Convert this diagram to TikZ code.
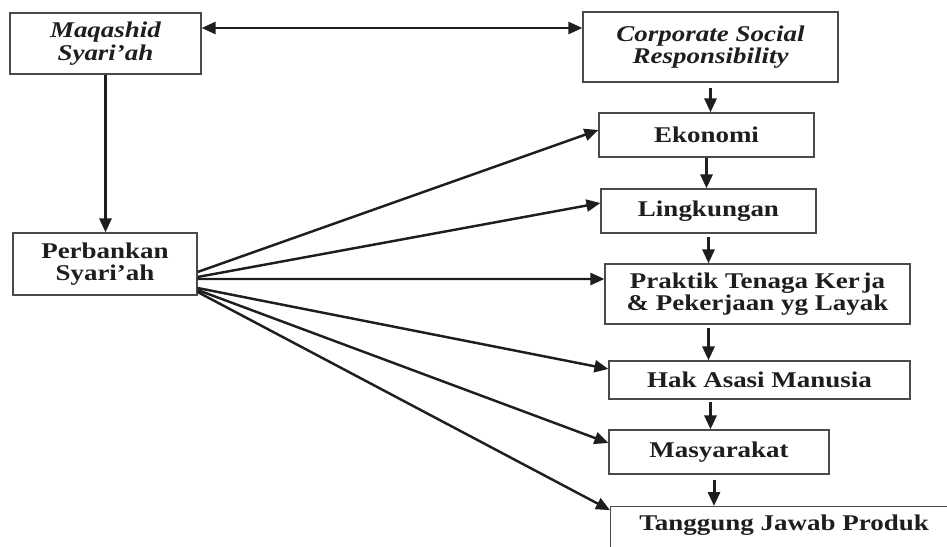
\documentclass[tikz,border=0pt]{standalone}
\usepackage{fontspec}
\setmainfont{Liberation Serif}[FakeStretch=1.2]
\usetikzlibrary{arrows.meta,calc}

\definecolor{boxline}{HTML}{4A4A4A}
\definecolor{ink}{HTML}{1E1E1E}

\tikzset{
	box/.style={draw=boxline, line width=0.7pt, inner sep=0pt, align=center, text=ink,
		font=\fontsize{12.8}{12.8}\selectfont\bfseries},
	ibox/.style={box, font=\fontsize{12.8}{12.8}\selectfont\bfseries\itshape},
	link/.style={draw=ink, line width=1.4pt, -{Triangle[length=0.28cm, width=0.24cm]}},
	down/.style={link, line width=1.7pt},
}

\begin{document}
\begin{tikzpicture}[x=0.02cm, y=-0.02cm]
	\useasboundingbox (0,0) rectangle (947,547);

	\node[ibox, minimum width=3.82cm, minimum height=1.22cm] (maqashid) at (105.5,43.5) {Maqashid\\Syari'ah};
	\node[ibox, minimum width=5.1cm, minimum height=1.4cm] (csr) at (710.5,47) {Corporate Social\\Responsibility};
	\node[box, minimum width=3.68cm, minimum height=1.24cm] (perbankan) at (105,264) {Perbankan\\Syari'ah};

	\node[box, minimum width=4.3cm, minimum height=0.88cm] (ekonomi) at (706.5,135) {Ekonomi};
	\node[box, minimum width=4.3cm, minimum height=0.88cm] (lingkungan) at (708.5,211) {Lingkungan};
	\node[box, minimum width=6.1cm, minimum height=1.2cm] (praktik) at (757.5,294) {Praktik Tenaga Ker\kern0.12em ja\\\& Pekerjaan yg Layak};
	\node[box, minimum width=6.02cm, minimum height=0.76cm] (ham) at (759.5,380) {Hak Asasi Manusia};
	\node[box, minimum width=4.4cm, minimum height=0.88cm] (masyarakat) at (719,452) {Masyarakat};
	\node[box, anchor=north west, minimum width=6.94cm, text height=0.48cm, text depth=0.52cm] (produk) at (610,506) {Tanggung Jawab Produk};

	% maqashid <-> csr
	\coordinate (top) at ([yshift=0.31cm]maqashid.east);
	\draw[link, {Triangle[length=0.28cm, width=0.24cm]}-{Triangle[length=0.28cm, width=0.24cm]}] (top) -- (top -| csr.west);
	\draw[down] (maqashid.south) -- (maqashid.south |- perbankan.north);

	% csr chain
	\coordinate (mcol) at ([xshift=-0.1cm]masyarakat.south);
	\draw[down, shorten <=0.1cm] (csr.south) -- (csr.south |- ekonomi.north);
	\draw[down] (ekonomi.south) -- (ekonomi.south |- lingkungan.north);
	\draw[down, shorten <=0.06cm] (lingkungan.south) -- (lingkungan.south |- praktik.north);
	\draw[down, shorten <=0.06cm] (lingkungan.south |- praktik.south) -- (lingkungan.south |- ham.north);
	\draw[down, shorten <=0.04cm] (csr.south |- ham.south) -- (csr.south |- masyarakat.north);
	\draw[down, shorten <=0.1cm] (mcol) -- (mcol |- produk.north);

	% perbankan fan
	\foreach \target/\from/\to in {ekonomi/-0.16/0.1, lingkungan/-0.26/0.16, praktik/-0.3/0.3,
		ham/-0.48/0.22, masyarakat/-0.52/0.18, produk/-0.56/0.43}
		\draw[link] ([yshift=\from cm]perbankan.east) -- ([yshift=\to cm]\target.west);
\end{tikzpicture}
\end{document}
